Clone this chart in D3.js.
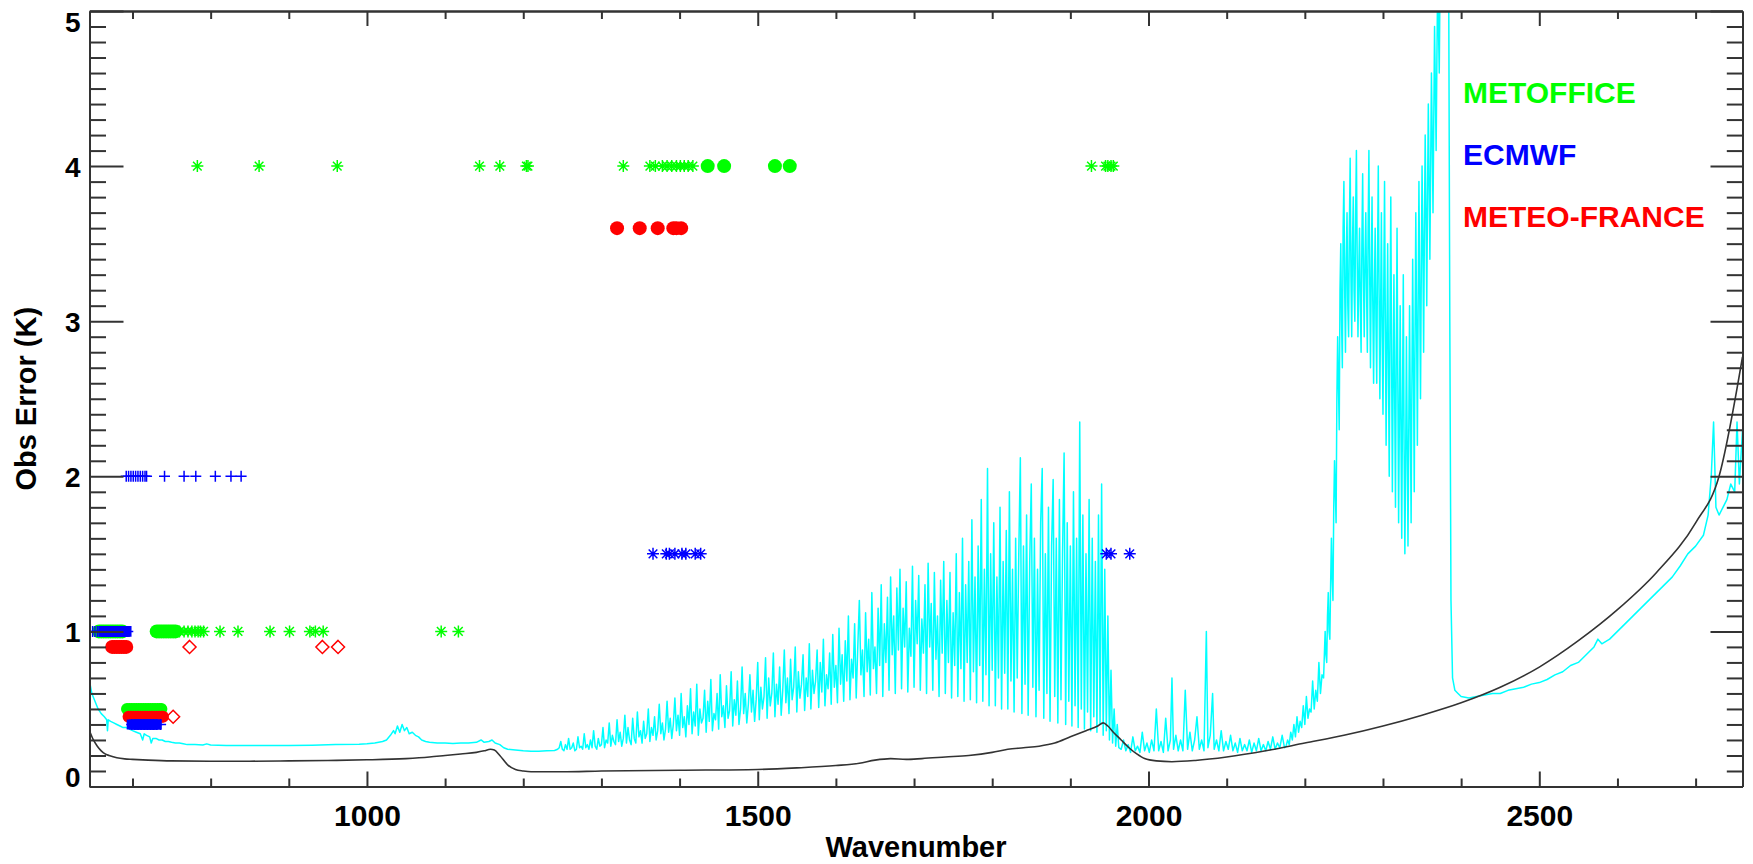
<!DOCTYPE html>
<html>
<head>
<meta charset="utf-8">
<script src="https://cdn.jsdelivr.net/npm/d3@7"></script>
<style>
  body { margin: 0; background: #ffffff; }
  text { font-family: "Liberation Sans", Arial, Helvetica, sans-serif; font-weight: bold; }
</style>
</head>
<body>
<svg id="chart" width="1753" height="864"></svg>
<script>
// ---- axis definitions ----
const xDomain = [645, 2760];
const yDomain = [0, 5];
const xMajorTicks = [1000, 1500, 2000, 2500];
const xMinorTicks = [700, 800, 900, 1100, 1200, 1300, 1400, 1600, 1700, 1800, 1900, 2100, 2200, 2300, 2400, 2600, 2700];
const yMajorTicks = [0, 1, 2, 3, 4, 5];
const xTitle = "Wavenumber";
const yTitle = "Obs Error (K)";

// ---- legend ----
const centres = ["METOFFICE", "ECMWF", "METEO-FRANCE"];
const centreColours = ["#00ff00", "#0000ff", "#ff0000"];

// ---- assigned observation errors per channel group (K) ----
const errorLevels = { metHigh: 4.0, metLow: 1.0, metTemp: 0.5, ecHigh: 2.0, ecMid: 1.5, ecLow: 1.0, ecTemp: 0.4, mfHigh: 3.6, mfLow: 0.9, mfTemp: 0.45 };

// METOFFICE channels (wavenumber, cm-1)
const metofficeStarsHigh = [783, 862, 962, 1144, 1170, 1204, 1206, 1328, 1362, 1369, 1378, 1384, 1390, 1396, 1401, 1406, 1411, 1417, 1927, 1945, 1948, 1952, 1955];
const metofficeDotsHigh = [1436, 1457, 1522, 1541];
const metofficeStarsLow = [760, 766, 771, 776, 780, 784, 787, 791, 812, 835, 876, 901, 927, 934, 944, 1095, 1117];
const metofficeDotsLow = [657, 660, 663, 666, 669, 672, 675, 678, 681, 684, 687, 731, 734, 737, 740, 743, 746, 749, 752, 755];
const metofficeDotsTemp = [693, 696, 699, 702, 705, 708, 711, 714, 717, 720, 723, 726, 729, 732, 735, 737];

// ECMWF channels
const ecmwfPlusHigh = [692, 695, 698, 701, 704, 707, 710, 713, 716, 718, 741, 766, 781, 806, 826, 839];
const ecmwfStarsMid = [1366, 1383, 1387, 1394, 1403, 1408, 1420, 1427, 1946, 1952, 1976];
const ecmwfPlusLow = [649, 652, 655, 658, 661, 664, 667, 670, 673, 676, 679, 682, 685, 688, 691, 694];
const ecmwfSquaresLow = [663, 666, 669, 672, 675, 678, 681, 684, 687, 690, 692];
const ecmwfPlusTemp = [699, 703, 707, 711, 715, 719, 723, 727, 731, 736];
const ecmwfSquaresTemp = [699, 702, 705, 708, 711, 714, 717, 720, 723, 726, 729, 731];

// METEO-FRANCE channels
const meteoFranceDotsHigh = [1320, 1349, 1372, 1392, 1396, 1402];
const meteoFranceDotsLow = [674, 677, 680, 683, 686, 689, 692];
const meteoFranceDiamondsLow = [773, 943, 963];
const meteoFranceDotsTemp = [695, 698, 701, 704, 707, 710, 713, 716, 719, 722, 725, 728, 731, 734, 737, 739];
const meteoFranceDiamondsTemp = [752];

// ---- spectrum of observation spread (cyan), [wavenumber, K] ----
const cyanLongwave = [
  [645,0.68],[648,0.6],[652,0.55],[656,0.5],[660,0.47],[664,0.45],[667,0.43],[668,0.36],[669,0.43],[672,0.42],[676,0.41],
  [680,0.4],[684,0.39],[688,0.38],[692,0.38],[696,0.37],[700,0.36],[705,0.35],[710,0.34],[713,0.3],[715,0.34],[718,0.33],
  [722,0.32],[724,0.28],[726,0.31],[730,0.31],[734,0.3],[738,0.3],[742,0.29],[746,0.29],[750,0.285],[755,0.28],[760,0.28],
  [765,0.275],[770,0.27],[780,0.27],[790,0.268],[795,0.275],[800,0.268],[820,0.265],[850,0.265],[880,0.264],[900,0.265],
  [930,0.266],[960,0.27],[990,0.272],[1000,0.275]
];
const cyanOzone = [
  [1010,0.28],[1020,0.29],[1025,0.3],[1030,0.33],[1034,0.36],[1036,0.34],[1039,0.39],[1042,0.35],[1045,0.4],[1048,0.36],
  [1051,0.38],[1054,0.34],[1058,0.35],[1062,0.33],[1066,0.32],[1070,0.3],[1075,0.29],[1080,0.285],[1090,0.28],[1100,0.28],
  [1110,0.278],[1120,0.28],[1130,0.28],[1140,0.285],[1146,0.3],[1150,0.285],[1156,0.29],[1160,0.3],[1164,0.28],[1170,0.27],
  [1175,0.25],[1180,0.24],[1190,0.235],[1200,0.23],[1210,0.228],[1220,0.228],[1230,0.23],[1240,0.232]
];
const cyanWaterVapour = [
  [1244,.24],[1246,.25],[1248,.29],[1250,.24],[1252,.23],[1254,.27],[1256,.24],[1258,.31],[1260,.24],[1262,.25],
  [1264,.28],[1266,.23],[1268,.24],[1270,.32],[1272,.25],[1274,.26],[1276,.24],[1278,.34],[1280,.25],[1282,.27],
  [1284,.24],[1286,.3],[1288,.25],[1290,.36],[1292,.26],[1294,.24],[1296,.31],[1298,.26],
  [1300,.27],[1302,.38],[1304,.25],[1306,.3],[1308,.28],[1310,.41],[1312,.26],[1314,.33],[1316,.29],[1318,.27],
  [1320,.43],[1322,.29],[1324,.35],[1326,.26],[1328,.31],[1330,.46],[1332,.28],[1334,.38],[1336,.3],[1338,.27],
  [1340,.44],[1342,.31],[1344,.28],[1346,.48],[1348,.32],[1350,.36],[1352,.28],[1354,.42],[1356,.31],[1358,.34],
  [1360,.5],[1362,.29],[1364,.38],[1366,.33],[1368,.45],[1370,.3],[1372,.36],[1374,.53],[1376,.34],[1378,.41],
  [1380,.3],[1382,.37],[1384,.55],[1386,.35],[1388,.44],[1390,.31],[1392,.4],[1394,.57],[1396,.36],[1398,.46],
  [1400,.33],[1402,.6],[1404,.38],[1406,.45],[1408,.32],[1410,.52],[1412,.4],[1414,.63],[1416,.34],[1418,.48],
  [1420,.39],[1422,.66],[1424,.33],[1426,.5],[1428,.41],[1430,.44],[1432,.62],[1434,.35],[1436,.55],[1438,.42],
  [1440,.69],[1442,.36],[1444,.47],[1446,.43],[1448,.6],[1450,.37],[1452,.72],[1454,.45],[1456,.52],[1458,.38],
  [1460,.65],[1462,.44],[1464,.49],[1466,.74],[1468,.39],[1470,.56],[1472,.46],[1474,.68],[1476,.4],[1478,.5],
  [1480,.77],[1482,.47],[1484,.6],[1486,.41],[1488,.53],[1490,.72],[1492,.48],[1494,.62],[1496,.42],[1498,.56],
  [1500,.8],[1502,.43],[1504,.64],[1506,.5],[1508,.58],[1510,.83],[1512,.44],[1514,.7],[1516,.52],[1518,.6],
  [1520,.86],[1522,.45],[1524,.66],[1526,.53],[1528,.77],[1530,.46],[1532,.62],[1534,.88],[1536,.54],[1538,.7],
  [1540,.47],[1542,.82],[1544,.56],[1546,.64],[1548,.9],[1550,.48],[1552,.74],[1554,.57],[1556,.66],[1558,.85],
  [1560,.49],[1562,.7],[1564,.58],[1566,.92],[1568,.5],[1570,.75],[1572,.6],[1574,.68],[1576,.88],[1578,.51],
  [1580,.8],[1582,.61],[1584,.95],[1586,.52],[1588,.72],[1590,.63],[1592,.86],[1594,.53],[1596,.98],[1598,.64],
  [1600,.78],[1602,.54],[1604,1.02],[1606,.66],[1608,.85],[1610,.55],[1612,.94],[1614,.68],[1616,1.1],[1618,.56],
  [1620,.82],[1622,.7],[1624,1.05],[1626,.57],[1628,.9],[1630,1.2],[1632,.72],[1634,.88],[1636,.58],[1638,1.12],
  [1640,.74],[1642,.95],[1644,.59],[1646,1.25],[1648,.76],[1650,.9],[1652,.6],[1654,1.15],[1656,.78],[1658,1.3],
  [1660,.58],[1662,1.05],[1664,.8],[1666,1.22],[1668,.62],[1670,1.35],[1672,.85],[1674,1.1],[1676,.6],[1678,1.28],
  [1680,.88],[1682,1.4],[1684,.63],[1686,1.15],[1688,.9],[1690,1.32],[1692,.61],[1694,1.02],[1696,.84],[1698,1.42],
  [1700,.64],[1702,1.2],[1704,.92],[1706,1.36],[1708,.62],[1710,1.08],[1712,.86],[1714,1.3],[1716,.6],[1718,1.44],
  [1720,.9],[1722,1.18],[1724,.62],[1726,1.38],[1728,.82],[1730,1.1],[1732,.58],[1734,1.33],[1736,.86],[1738,1.45],
  [1740,.6],[1742,1.2],[1744,.8],[1746,1.38],[1748,.57],[1750,1.12],[1752,.78],[1754,1.5],[1756,.58],[1758,1.25],
  [1760,.76],[1762,1.6],[1764,.55],[1766,1.3],[1768,.8],[1770,1.45],[1772,.56],[1774,1.72],[1776,.74],[1778,1.35],
  [1780,.54],[1782,1.55],[1784,.78],[1786,1.85],[1788,.55],[1790,1.4],[1792,.72],[1794,2.05],[1796,.52],[1798,1.5],
  [1800,.75],[1802,1.7],[1804,.52],[1806,1.35],[1808,.7],[1810,1.8],[1812,.5],[1814,1.45],[1816,.73],[1818,1.65],
  [1820,.5],[1822,1.9],[1824,.68],[1826,1.4],[1828,.48],[1830,1.6],[1832,.7],[1834,1.5],[1836,2.12],[1838,.47],
  [1840,1.55],[1842,.66],[1844,1.75],[1846,.46],[1848,1.45],[1850,1.95],[1852,.64],[1854,1.6],[1856,.45],[1858,1.4],
  [1860,.62],[1862,1.7],[1864,2.05],[1866,.44],[1868,1.5],[1870,.6],[1872,1.8],[1874,.42],[1876,1.55],[1878,1.98],
  [1880,.58],[1882,1.6],[1884,.41],[1886,1.85],[1888,.56],[1890,1.5],[1892,2.15],[1894,.4],[1896,1.7],[1898,.55],
  [1900,1.55],[1902,.39],[1904,1.9],[1906,.52],[1908,1.6],[1910,.38],[1912,2.35],[1914,.5],[1916,1.75],[1918,.37],
  [1920,1.5],[1922,.48],[1924,1.85],[1926,.36],[1928,1.6],[1930,.45],[1932,1.45],[1934,.35],[1936,1.75],[1938,.4],
  [1940,1.95],[1942,.33],[1944,1.4],[1946,.36],[1948,1.1],[1950,.3],[1952,.75],[1954,.28],[1956,.5],[1958,.26],
  [1960,.4],[1962,.25]
];
const cyanWindow = [
  [1965,.24],[1968,.3],[1971,.23],[1974,.27],[1977,.22],[1980,.32],[1983,.23],[1986,.26],[1989,.22],[1992,.35],
  [1995,.23],[1998,.28],[2001,.22],[2004,.3],[2007,.23],[2010,.5],[2013,.23],[2016,.29],[2019,.22],[2022,.44],
  [2025,.23],[2028,.3],[2030,.7],[2032,.24],[2035,.33],[2038,.23],[2041,.3],[2044,.23],[2047,.62],[2050,.24],
  [2053,.35],[2056,.23],[2059,.3],[2062,.45],[2065,.24],[2068,.3],[2071,.23],[2074,1.0],[2076,.25],[2079,.33],
  [2082,.6],[2084,.24],[2087,.3],[2090,.23],[2093,.36],[2096,.23],[2099,.29],[2102,.24],[2105,.33],[2108,.23],
  [2111,.28],[2114,.22],[2117,.31],[2120,.23],[2123,.27],[2126,.23],[2129,.3],[2132,.22],[2135,.28],[2138,.23],
  [2141,.31],[2144,.23],[2147,.27],[2150,.23],[2153,.29],[2156,.24],[2159,.32],[2162,.24],[2165,.28],[2168,.25],
  [2171,.33],[2174,.25]
];
const cyanCO2Band = [
  [2176,.26],[2178,.3],[2180,.27],[2182,.35],[2184,.3],[2186,.4],[2188,.32],[2190,.45],[2192,.35],[2194,.42],
  [2196,.38],[2198,.52],[2200,.4],[2202,.58],[2204,.44],[2206,.5],[2208,.48],[2210,.68],[2212,.5],[2214,.62],
  [2216,.55],[2218,.8],[2220,.6],[2222,.72],[2224,.7],
  [2226,1.0],[2227,.85],[2228,.8],[2229,1.1],[2230,1.25],[2231,1.0],[2232,.95],[2233,1.3],[2234,1.6],[2235,1.35],
  [2236,1.2],[2237,1.8],[2238,2.1],[2239,1.9],[2240,1.7],[2241,2.5],[2242,2.9],[2243,2.6],[2244,2.3],[2245,3.2],
  [2246,3.5],[2247,3.0],[2248,2.7],[2249,3.6],[2250,3.9],[2251,3.2],[2252,2.8],[2253,3.4],[2254,3.7],[2255,3.1],
  [2256,2.9],[2257,3.6],[2258,4.05],[2259,3.3],[2260,2.9],[2261,3.5],[2262,3.8],[2263,3.2],[2264,3.0],[2265,3.7],
  [2266,4.1],[2267,3.4],[2268,2.9],[2269,3.3],[2270,3.6],[2271,3.1],[2272,2.8],[2273,3.5],[2274,3.95],[2275,3.3],
  [2276,2.9],[2277,3.4],[2278,3.7],[2279,3.2],[2280,2.8],[2281,3.6],[2282,4.1],[2283,3.3],[2284,2.7],[2285,3.3],
  [2286,3.8],[2287,3.1],[2288,2.6],[2289,3.2],[2290,3.6],[2291,3.0],[2292,2.6],[2293,3.4],[2294,4.0],[2295,3.2],
  [2296,2.5],[2297,3.1],[2298,3.7],[2299,2.9],[2300,2.4],[2301,3.2],[2302,3.9],[2303,3.0],[2304,2.2],[2305,2.9],
  [2306,3.5],[2307,2.7],[2308,2.0],[2309,3.0],[2310,3.8],[2311,2.8],[2312,1.9],[2313,2.6],[2314,3.3],[2315,2.5],
  [2316,1.8],[2317,2.8],[2318,3.6],[2319,2.6],[2320,1.7],[2321,2.4],[2322,3.1],[2323,2.3],[2324,1.6],[2325,2.5],
  [2326,3.3],[2327,2.2],[2328,1.5],[2329,2.1],[2330,2.9],[2331,2.2],[2332,1.55],[2333,2.3],[2334,3.1],[2335,2.4],
  [2336,1.7],[2337,2.6],[2338,3.4],[2339,2.7],[2340,1.9],[2341,2.9],[2342,3.7],[2343,3.0],[2344,2.2],[2345,3.1],
  [2346,3.9],[2347,3.2],[2348,2.5],[2349,3.3],[2350,4.0],[2351,3.5],[2352,2.8],[2353,3.6],[2354,4.2],[2355,3.7],
  [2356,3.1],[2357,3.8],[2358,4.4],[2359,3.9],[2360,3.4],[2361,4.0],[2362,4.6],[2363,4.2],[2364,3.7],[2365,4.3],
  [2366,4.9],[2367,4.5],[2368,4.1],[2369,4.7],[2370,5.2],[2371,4.9],[2372,4.6],[2373,5.2],[2374,5.5],
  [2378,5.5],[2382,5.5],[2384,5.3],[2385.5,3.0],[2387,1.2],[2389,0.7],[2392,0.62],[2396,0.6]
];
const cyanShortwave = [
  [2400,0.58],[2410,0.57],[2420,0.58],[2430,0.59],[2440,0.6],[2450,0.6],[2460,0.62],[2470,0.63],[2480,0.64],[2490,0.66],
  [2500,0.67],[2510,0.69],[2520,0.72],[2530,0.74],[2540,0.78],[2550,0.8],[2560,0.85],[2570,0.9],[2575,0.95],[2580,0.92],
  [2590,0.95],[2600,1.0],[2610,1.05],[2620,1.1],[2630,1.15],[2640,1.2],[2650,1.25],[2660,1.3],[2670,1.35],[2680,1.42],
  [2690,1.5],[2700,1.55],[2710,1.62],[2716,1.75],[2720,2.0],[2723,2.35],[2726,1.8],[2730,1.75],[2735,1.8],[2740,1.85],
  [2745,1.95],[2750,1.9],[2753,2.35],[2756,1.95],[2760,2.3]
];
const cyanSpectrum = [].concat(cyanLongwave, cyanOzone, cyanWaterVapour, cyanWindow, cyanCO2Band, cyanShortwave);

// ---- instrument noise curve (black), [wavenumber, K] ----
const noiseCurve = [
  [645,0.36],[650,0.3],[655,0.26],[660,0.23],[665,0.21],[670,0.2],[680,0.185],[690,0.178],[700,0.175],[720,0.17],
  [750,0.165],[800,0.163],[850,0.163],[900,0.165],[950,0.168],[1000,0.172],[1050,0.18],[1080,0.19],[1100,0.2],[1120,0.21],
  [1140,0.22],[1150,0.23],[1158,0.24],[1163,0.235],[1170,0.2],[1180,0.14],[1190,0.11],[1200,0.1],[1210,0.095],[1250,0.095],
  [1300,0.1],[1400,0.105],[1500,0.11],[1550,0.12],[1600,0.135],[1630,0.15],[1650,0.17],[1670,0.18],[1690,0.175],[1710,0.18],
  [1740,0.19],[1770,0.2],[1800,0.22],[1820,0.24],[1840,0.25],[1860,0.26],[1880,0.28],[1900,0.32],[1920,0.36],[1935,0.39],
  [1942,0.41],[1948,0.39],[1955,0.35],[1965,0.3],[1975,0.25],[1985,0.21],[1995,0.18],[2010,0.165],[2030,0.16],[2060,0.168],
  [2100,0.19],[2150,0.23],[2200,0.28],[2250,0.33],[2300,0.39],[2350,0.46],[2400,0.54],[2450,0.64],[2500,0.77],[2550,0.94],
  [2600,1.14],[2650,1.38],[2700,1.7],[2730,2.0],[2760,2.77]
];

// ---- layout ----
const svg = d3.select("#chart");
const plot = { left: 89.5, right: 1742.5, top: 11, bottom: 786.5 };
const axisColour = "#333333";

const x = d3.scaleLinear().domain(xDomain).range([plot.left, plot.right]);
const y = d3.scaleLinear().domain(yDomain).range([plot.bottom, plot.top]);

svg.append("rect").attr("width", 1753).attr("height", 864).attr("fill", "#ffffff");

svg.append("clipPath").attr("id", "plotClip")
  .append("rect")
  .attr("x", plot.left).attr("y", plot.top)
  .attr("width", plot.right - plot.left).attr("height", plot.bottom - plot.top);

// ---- curves ----
const line = d3.line().x(d => x(d[0])).y(d => y(d[1]));
const curves = svg.append("g").attr("clip-path", "url(#plotClip)");
curves.append("path").datum(cyanSpectrum)
  .attr("d", line).attr("fill", "none").attr("stroke", "#00ffff").attr("stroke-width", 1.5)
  .attr("stroke-linejoin", "round");
curves.append("path").datum(noiseCurve)
  .attr("d", d3.line().curve(d3.curveMonotoneX).x(d => x(d[0])).y(d => y(d[1])))
  .attr("fill", "none").attr("stroke", "#333333").attr("stroke-width", 1.6);

// ---- marker shapes ----
const shapes = {
  plus: s => `M${-s},0H${s}M0,${-s}V${s}`,
  star: s => { const d = s * 0.72; return `M${-s},0H${s}M0,${-s}V${s}M${-d},${-d}L${d},${d}M${-d},${d}L${d},${-d}`; },
  diamond: s => `M0,${-s}L${s},0L0,${s}L${-s},0Z`,
  square: s => `M${-s},${-s}H${s}V${s}H${-s}Z`
};

const markers = svg.append("g").attr("clip-path", "url(#plotClip)");

function drawDots(list, err, colour, r) {
  markers.append("g").selectAll("circle").data(list).join("circle")
    .attr("cx", d => x(d)).attr("cy", y(err)).attr("r", r).attr("fill", colour);
}
function drawShape(list, err, colour, shape, size, filled) {
  markers.append("g").selectAll("path").data(list).join("path")
    .attr("transform", d => `translate(${x(d)},${y(err)})`)
    .attr("d", shapes[shape](size))
    .attr("fill", filled ? colour : "none")
    .attr("stroke", colour).attr("stroke-width", filled ? 0 : 1.5);
}

// METOFFICE
drawShape(metofficeStarsHigh, errorLevels.metHigh, centreColours[0], "star", 6, false);
drawDots(metofficeDotsHigh, errorLevels.metHigh, centreColours[0], 7);
drawDots(metofficeDotsLow, errorLevels.metLow, centreColours[0], 7);
drawShape(metofficeStarsLow, errorLevels.metLow, centreColours[0], "star", 6, false);
drawDots(metofficeDotsTemp, errorLevels.metTemp, centreColours[0], 6);
// METEO-FRANCE
drawDots(meteoFranceDotsHigh, errorLevels.mfHigh, centreColours[2], 7);
drawDots(meteoFranceDotsLow, errorLevels.mfLow, centreColours[2], 7);
drawShape(meteoFranceDiamondsLow, errorLevels.mfLow, centreColours[2], "diamond", 6.5, false);
drawDots(meteoFranceDotsTemp, errorLevels.mfTemp, centreColours[2], 6);
drawShape(meteoFranceDiamondsTemp, errorLevels.mfTemp, centreColours[2], "diamond", 6.5, false);
// ECMWF
drawShape(ecmwfPlusHigh, errorLevels.ecHigh, centreColours[1], "plus", 5.5, false);
drawShape(ecmwfStarsMid, errorLevels.ecMid, centreColours[1], "star", 6, false);
drawShape(ecmwfPlusLow, errorLevels.ecLow, centreColours[1], "plus", 5.5, false);
drawShape(ecmwfSquaresLow, errorLevels.ecLow, centreColours[1], "square", 5.3, true);
drawShape(ecmwfPlusTemp, errorLevels.ecTemp, centreColours[1], "plus", 5.5, false);
drawShape(ecmwfSquaresTemp, errorLevels.ecTemp, centreColours[1], "square", 5, true);

// ---- axes (ticks point inward) ----
const yMinorTicks = d3.range(0, 5.001, 0.1).map(v => +v.toFixed(1)).filter(v => !yMajorTicks.includes(v));

function styleAxis(g) {
  g.select(".domain").attr("stroke", axisColour).attr("stroke-width", 2);
  g.selectAll(".tick line").attr("stroke", axisColour).attr("stroke-width", 2);
  g.selectAll("text").attr("fill", "#000").attr("font-family", null).attr("font-weight", "bold");
}
function addAxis(gen, tx, ty) {
  return svg.append("g").attr("transform", `translate(${tx},${ty})`).call(gen).call(styleAxis);
}

// bottom
addAxis(d3.axisBottom(x).tickValues(xMinorTicks).tickSize(-8).tickSizeOuter(0).tickFormat(""), 0, plot.bottom);
const bottomAxis = addAxis(d3.axisBottom(x).tickValues(xMajorTicks).tickSize(-15).tickSizeOuter(0).tickPadding(18.5).tickFormat(d3.format("d")), 0, plot.bottom);
bottomAxis.selectAll("text").attr("font-size", 30);
// top
addAxis(d3.axisTop(x).tickValues(xMinorTicks).tickSize(-8).tickSizeOuter(0).tickFormat(""), 0, plot.top);
addAxis(d3.axisTop(x).tickValues(xMajorTicks).tickSize(-15).tickSizeOuter(0).tickFormat(""), 0, plot.top);
// left
addAxis(d3.axisLeft(y).tickValues(yMinorTicks).tickSize(-16.5).tickSizeOuter(0).tickFormat(""), plot.left, 0);
const leftAxis = addAxis(d3.axisLeft(y).tickValues(yMajorTicks).tickSize(-34).tickSizeOuter(0).tickPadding(9).tickFormat(d3.format("d")), plot.left, 0);
leftAxis.selectAll("text").attr("font-size", 28)
  .attr("dy", d => d === 0 ? "0em" : (d === 5 ? "0.72em" : "0.36em"));
// right
addAxis(d3.axisRight(y).tickValues(yMinorTicks).tickSize(-15.7).tickSizeOuter(0).tickFormat(""), plot.right, 0);
addAxis(d3.axisRight(y).tickValues(yMajorTicks).tickSize(-32).tickSizeOuter(0).tickFormat(""), plot.right, 0);

// ---- titles ----
svg.append("text").attr("x", (plot.left + plot.right) / 2).attr("y", 857)
  .attr("text-anchor", "middle").attr("font-size", 29).attr("fill", "#000").text(xTitle);
svg.append("text").attr("transform", `translate(36,${(plot.top + plot.bottom) / 2}) rotate(-90)`)
  .attr("text-anchor", "middle").attr("font-size", 29).attr("fill", "#000").text(yTitle);

// ---- legend ----
const legendBaselines = [103.3, 165, 226.7];
svg.append("g").selectAll("text").data(centres).join("text")
  .attr("x", 1463).attr("y", (d, i) => legendBaselines[i])
  .attr("font-size", 30).attr("fill", (d, i) => centreColours[i])
  .text(d => d);
</script>
</body>
</html>
